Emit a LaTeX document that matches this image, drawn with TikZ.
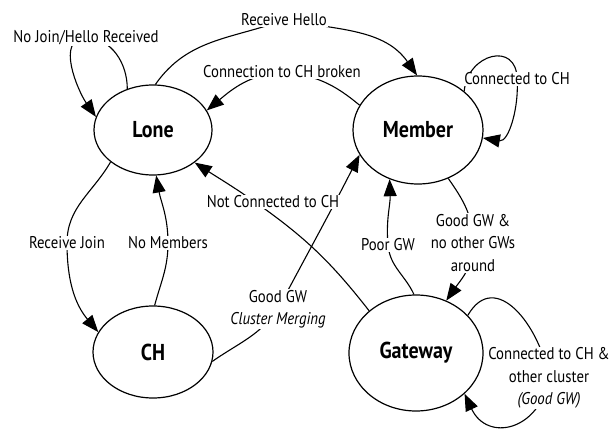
\documentclass[tikz,border=0pt]{standalone}
\usepackage{fontspec}
\setmainfont[FakeStretch=0.87]{PT Sans}
\usetikzlibrary{shapes.geometric,arrows.meta,backgrounds}

\begin{document}
  \begin{tikzpicture}[x=1pt,y=1pt,
      state/.style={ellipse,draw,line width=1.2pt,fill=white,inner sep=0pt,
        font=\fontsize{23}{27}\selectfont\bfseries},
      lbl/.style={fill=white,inner sep=1pt,align=center,
        font=\fontsize{17}{22.5}\selectfont},
      trans/.style={line width=1.1pt,-{Triangle[length=17pt,width=13pt]}}]
    \useasboundingbox (0,0) rectangle (613,429);
    \node[state,minimum width=118pt,minimum height=90pt] (lone) at (153,299) {Lone};
    \node[state,minimum width=130pt,minimum height=108pt] (member) at (418,299) {Member};
    \node[state,minimum width=120pt,minimum height=92pt] (ch) at (153,77) {CH};
    \node[state,minimum width=134pt,minimum height=116pt] (gateway) at (416,76) {Gateway};
    \node[lbl] (lnojoin) at (86,391) {No Join/Hello Received};
    \node[lbl] (lhello) at (284,409) {Receive Hello};
    \node[lbl] (lbroken) at (282,357) {Connection to CH broken};
    \node[lbl] (lconn) at (517,350) {Connected to CH};
    \node[lbl] (ljoin) at (67,186) {Receive Join};
    \node[lbl] (lnomem) at (168,186) {No Members};
    \node[lbl] (lnotconn) at (273,227) {Not Connected to CH};
    \node[lbl] (lmerge) at (278,120) {Good GW\\\textit{Cluster Merging}};
    \node[lbl] (lpoor) at (388,184) {Poor GW};
    \node[lbl] (lgoodgw) at (473,186) {Good GW \&\\no other GWs\\around};
    \node[lbl] (lcross) at (549,51) {Connected to CH \&\\other cluster\\\textit{(Good GW)}};
    \begin{scope}[on background layer]
      \draw[trans] (lone.122) to[out=90,in=0] (lnojoin.center)
        to[out=180,in=125] (lone.167);
      \draw[trans] (lone.87) to[out=55,in=200] (lhello.center)
        to[out=-10,in=125] (member.91);
      \draw[trans] (member.157) to[out=140,in=-5] (lbroken.center)
        to[out=185,in=40] (lone.20);
      \draw[trans] (member.40) to[out=85,in=90,looseness=1.8] (lconn.center)
        to[out=-85,in=-10] (member.-7);
      \draw[trans] (lone.217) to[out=240,in=90] (ljoin.center)
        to[out=-90,in=130] (ch.160);
      \draw[trans] (ch.88) to[out=75,in=-90] (lnomem.center)
        to[out=90,in=-80] (lone.-86);
      \draw[trans] (ch.-9) to[out=35,in=235] (lmerge.center)
        to[out=62,in=243] (member.203);
      \draw[trans] (gateway.138) to[out=128,in=-35] ([xshift=-18pt]lnotconn.center)
        to[out=145,in=-33] (lone.-38);
      \draw[trans] (gateway.92) to[out=115,in=-85] (lpoor.center)
        to[out=95,in=-88] (member.240);
      \draw[trans] (member.-58) to[out=-55,in=90] (lgoodgw.center)
        to[out=-90,in=55] (gateway.60);
      \draw[trans] (gateway.36) to[out=60,in=100,looseness=1.35] (lcross.center)
        to[out=-100,in=-65,looseness=1.6] (gateway.-40);
    \end{scope}
  \end{tikzpicture}
\end{document}
